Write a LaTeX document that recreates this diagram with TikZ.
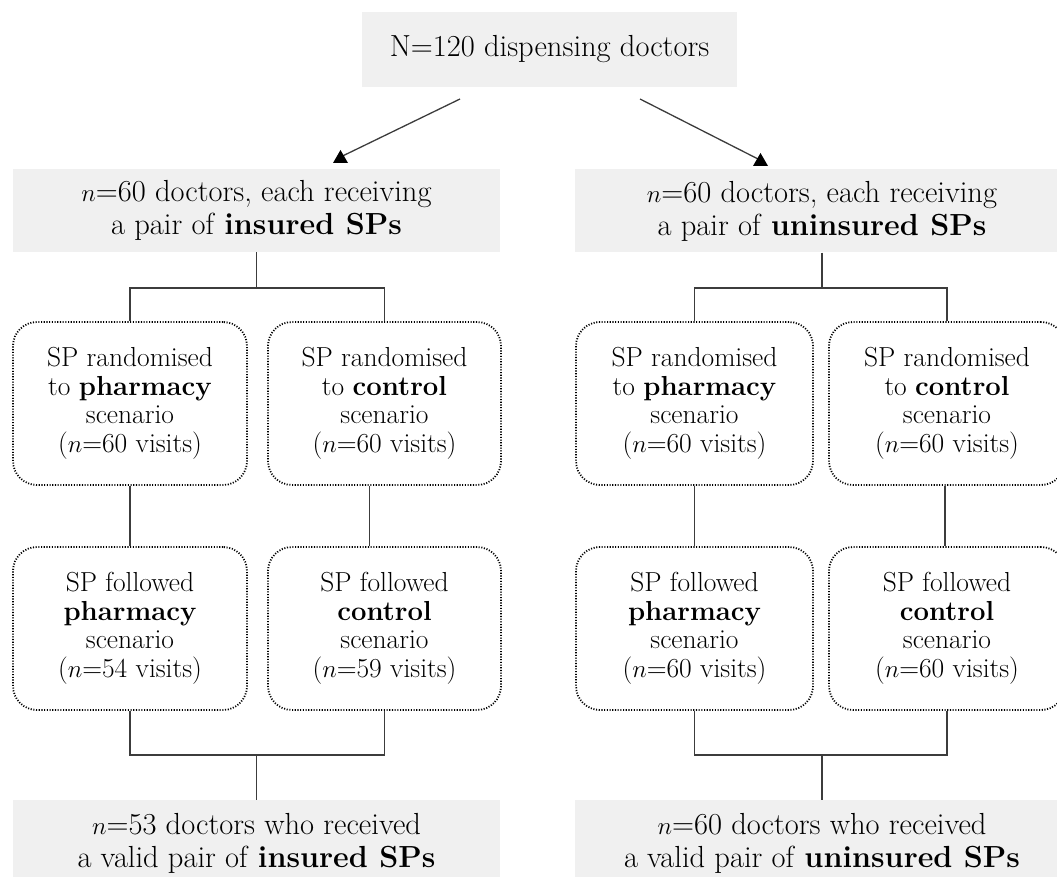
\documentclass[tikz,border=0pt]{standalone}
\usepackage{fontspec}
\definecolor{boxgray}{RGB}{240,240,240}
\definecolor{linegray}{RGB}{60,60,60}
\tikzset{
  graybox/.style={fill=boxgray, draw=none, align=center, inner sep=0pt,
    font=\fontsize{30.5}{33}\selectfont},
  dotbox/.style={draw=black, line width=1.8pt, dash pattern=on 1.1pt off 1.6pt,
    rounded corners=24pt, align=center, inner sep=0pt,
    minimum height=163pt, font=\fontsize{27.5}{28.5}\selectfont},
  conn/.style={draw=linegray, line width=1.3pt},
}
\begin{document}
\begin{tikzpicture}[x=1pt,y=-1pt]
\useasboundingbox (0,0) rectangle (1057,877);

% gray boxes
\node[graybox, minimum width=375pt, minimum height=75pt] (top) at (549.5,49.5) {N=120 dispensing doctors};
\node[graybox, minimum width=487pt, minimum height=83pt] (L) at (256.5,210.5)
  {$n$=60 doctors, each receiving\\a pair of \textbf{insured SPs}};
\node[graybox, minimum width=494pt, minimum height=83pt] (R) at (822,211)
  {$n$=60 doctors, each receiving\\a pair of \textbf{uninsured SPs}};
\node[graybox, minimum width=487pt, minimum height=86pt] (BL) at (256.5,843)
  {$n$=53 doctors who received\\a valid pair of \textbf{insured SPs}};
\node[graybox, minimum width=494pt, minimum height=86pt] (BR) at (822,843)
  {$n$=60 doctors who received\\a valid pair of \textbf{uninsured SPs}};

% dotted boxes row 1
\node[dotbox, minimum width=234pt] (LA) at (130,403.5)
  {SP randomised\\to \textbf{pharmacy}\\scenario\\($n$=60 visits)};
\node[dotbox, minimum width=233pt] (LB) at (384.5,403.5)
  {SP randomised\\to \textbf{control}\\scenario\\($n$=60 visits)};
\node[dotbox, minimum width=237pt] (RA) at (694.5,403.5)
  {SP randomised\\to \textbf{pharmacy}\\scenario\\($n$=60 visits)};
\node[dotbox, minimum width=236pt] (RB) at (947,403.5)
  {SP randomised\\to \textbf{control}\\scenario\\($n$=60 visits)};

% dotted boxes row 2
\node[dotbox, minimum width=234pt] (LC) at (130,628.5)
  {SP followed\\\textbf{pharmacy}\\scenario\\($n$=54 visits)};
\node[dotbox, minimum width=233pt] (LD) at (384.5,628.5)
  {SP followed\\\textbf{control}\\scenario\\($n$=59 visits)};
\node[dotbox, minimum width=237pt] (RC) at (694.5,628.5)
  {SP followed\\\textbf{pharmacy}\\scenario\\($n$=60 visits)};
\node[dotbox, minimum width=236pt] (RD) at (947,628.5)
  {SP followed\\\textbf{control}\\scenario\\($n$=60 visits)};

% arrows from top
\coordinate (a1) at (460,99);
\coordinate (t1) at (340.5,157);
\coordinate (a2) at (640,99);
\coordinate (t2) at (760,160);
\draw[conn] (a1) -- (t1);
\draw[conn] (a2) -- (t2);
\fill[black] (333,163) -- (348,163) -- (340.5,150) -- cycle;
\fill[black] (753,166) -- (768,166) -- (760.5,153) -- cycle;

% left branch
\coordinate (Lj) at (L.south |- 0,288);
\draw[conn] (L.south) -- (Lj);
\draw[conn] (LA.north) |- (Lj) -| (LB.north);
\draw[conn] (LA.south) -- (LC.north);
\draw[conn] ([xshift=-15pt]LB.south) -- ([xshift=-15pt]LD.north);
\coordinate (Lk) at (BL.north |- 0,755);
\draw[conn] (LC.south) |- (Lk) -| (LD.south);
\draw[conn] (Lk) -- (BL.north);

% right branch
\coordinate (Rj) at (R.south |- 0,288);
\draw[conn] (R.south) -- (Rj);
\draw[conn] (RA.north) |- (Rj) -| (RB.north);
\draw[conn] (RA.south) -- (RC.north);
\draw[conn] ([xshift=-2pt]RB.south) -- ([xshift=-2pt]RD.north);
\coordinate (Rk) at (BR.north |- 0,755);
\draw[conn] (RC.south) |- (Rk) -| (RD.south);
\draw[conn] (Rk) -- (BR.north);
\end{tikzpicture}
\end{document}
